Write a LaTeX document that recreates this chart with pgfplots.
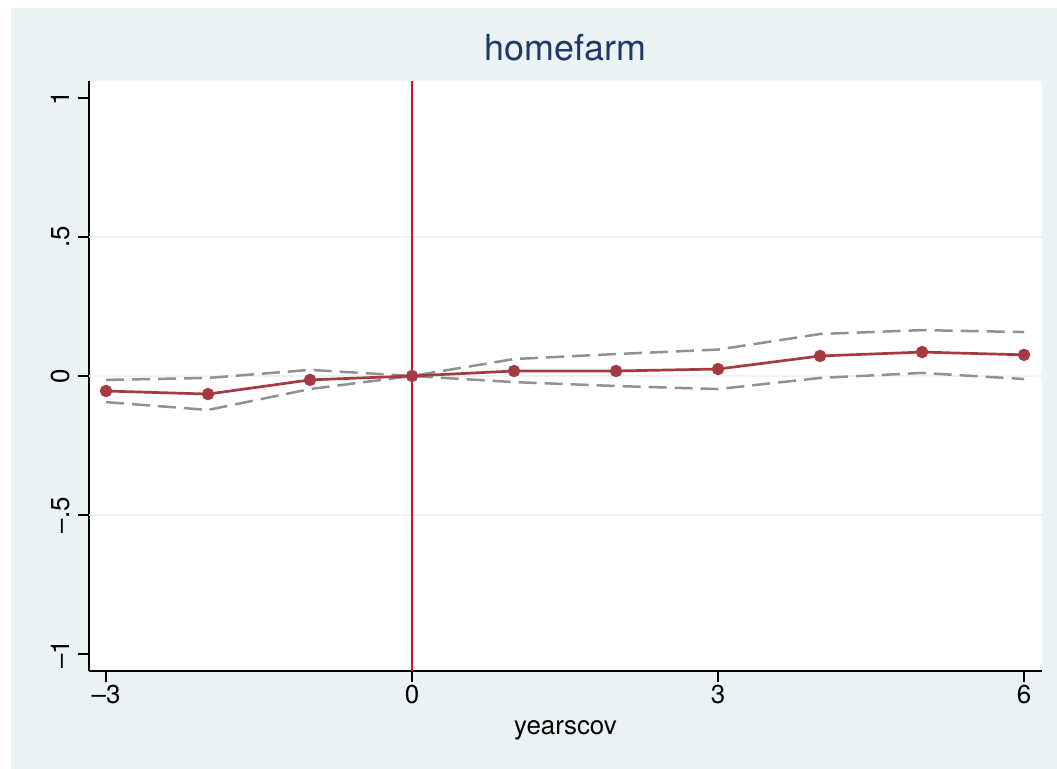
\documentclass[border=0pt]{standalone}
\usepackage{fontspec}
\setmainfont{TeX Gyre Heros}
\usepackage{pgfplots}
\pgfplotsset{compat=1.18}
\definecolor{bgpanel}{RGB}{234,242,243}
\definecolor{gridc}{RGB}{234,242,243}
\definecolor{mainc}{RGB}{165,58,64}
\definecolor{vlinec}{RGB}{206,18,52}
\definecolor{cic}{RGB}{145,145,145}
\definecolor{titlec}{RGB}{30,57,104}
\begin{document}
\begin{tikzpicture}[x=1bp,y=1bp]
\useasboundingbox (-89,-98) rectangle (968,671);
\fill[white] (-89,-98) rectangle (968,671);
\fill[bgpanel] (-78,-98) rectangle (968,663);
\begin{axis}[
 at={(0,0)}, anchor=south west,
 scale only axis, width=953bp, height=590bp,
 xmin=-3.167, xmax=6.176, ymin=-1.061, ymax=1.061,
 axis lines=left, axis line style={-, line width=1.2bp, black},
 axis background/.style={fill=white},
 tick align=outside, major tick length=11bp,
 every tick/.style={black, line width=1.2bp},
 xtick={-3,0,3,6}, xticklabels={\textendash3,0,3,6},
 ytick={-1,-0.5,0,0.5,1}, yticklabels={\textendash1,\textendash.5,0,.5,1},
 ticklabel style={font=\fontsize{26}{30}\selectfont},
 yticklabel style={rotate=90, anchor=south},
 yticklabel shift=5bp,
 minor tick num=0,
 extra y ticks={-0.5,0,0.5}, extra y tick labels={},
 extra y tick style={grid=major, major tick length=0pt},
 grid style={gridc, line width=2bp},
 xlabel={yearscov},
 xlabel style={font=\fontsize{26}{30}\selectfont, at={(axis description cs:0.5,0)}, anchor=base, yshift=-64bp},
 title={homefarm},
 title style={font=\fontsize{36}{40}\selectfont, color=titlec, at={(axis description cs:0.5,1)}, anchor=base, yshift=15bp},
]
\addplot[vlinec, line width=2bp] coordinates {(0,-1.061) (0,1.061)};
\addplot[cic, line width=2.5bp, dash pattern=on 18bp off 8bp] coordinates {
(-3,-0.014) (-2,-0.007) (-1,0.022) (0,0) (1,0.061) (2,0.079) (3,0.095) (4,0.151) (5,0.165) (6,0.158)};
\addplot[cic, line width=2.5bp, dash pattern=on 18bp off 8bp] coordinates {
(-3,-0.094) (-2,-0.122) (-1,-0.047) (0,0) (1,-0.022) (2,-0.036) (3,-0.047) (4,-0.007) (5,0.011) (6,-0.011)};
\addplot[mainc, line width=2.7bp, mark=*, mark size=4.8bp, mark options={solid, fill=mainc, draw=mainc}] coordinates {
(-3,-0.054) (-2,-0.065) (-1,-0.014) (0,0) (1,0.018) (2,0.018) (3,0.025) (4,0.072) (5,0.086) (6,0.076)};
\end{axis}
\end{tikzpicture}
\end{document}
